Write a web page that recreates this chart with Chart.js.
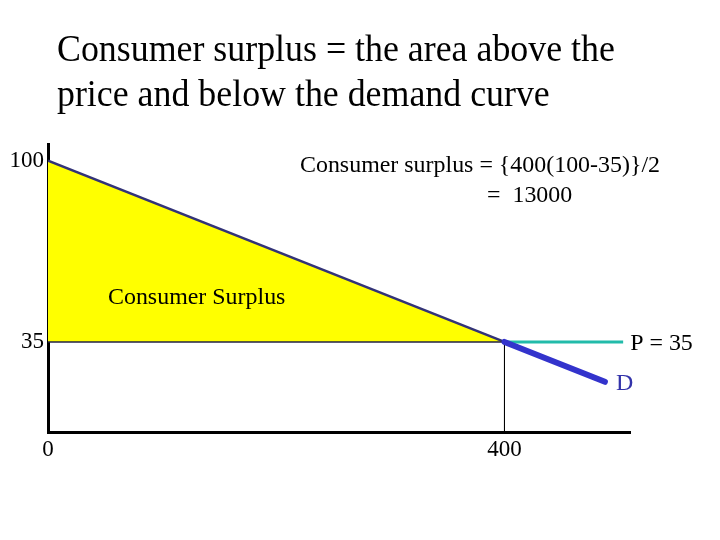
<!DOCTYPE html>
<html>
<head>
<meta charset="utf-8">
<script src="https://cdn.jsdelivr.net/npm/chart.js@4/dist/chart.umd.min.js"></script>
<style>
  html, body { margin: 0; padding: 0; background: #ffffff; }
</style>
</head>
<body>
<canvas id="cs-chart" width="720" height="540"></canvas>
<script>
// chart data
var title_lines = ['Consumer surplus = the area above the', 'price and below the demand curve'];
var formula_lines = ['Consumer surplus = {400(100-35)}/2', '=  13000'];
var area_label = 'Consumer Surplus';
var x_ticks = [0, 400];
var y_ticks = [35, 100];
var x_range = [0, 510];
var y_range = [2.7, 106];
var price = 35;
var quantity = 400;
var demand_q = [0, 400, 488];
var demand_p = [100, 35, 20.7];
var price_end_q = 504;

var serif = '"Liberation Serif", "Times New Roman", serif';

function pts(xs, ys)
{
  return xs.map(function (x, i) { return {x: x, y: ys[i]}; });
}

// text with a small horizontal stretch to match the slide font widths
function put_text(ctx, text, x, y, size, sx)
{
  ctx.save();
  ctx.font = size + 'px ' + serif;
  ctx.translate(x, y);
  ctx.scale(sx, 1);
  ctx.fillText(text, 0, 0);
  ctx.restore();
}

var text_plugin = {
  id: 'text_plugin',
  afterDraw: function (chart) {
    var ctx = chart.ctx;
    var xs = chart.scales.x, ys = chart.scales.y;
    ctx.save();
    ctx.fillStyle = '#000000';
    ctx.textBaseline = 'alphabetic';
    ctx.textAlign = 'left';

    put_text(ctx, title_lines[0], 57, 61, 37, 0.969);
    put_text(ctx, title_lines[1], 57, 106, 37, 0.969);

    put_text(ctx, formula_lines[0], 300, 172, 23, 1.04);
    put_text(ctx, formula_lines[1], 487, 202, 23, 1.04);
    put_text(ctx, area_label, 108, 304, 23, 1.04);

    var py = ys.getPixelForValue(price);
    put_text(ctx, 'P = ' + price, xs.getPixelForValue(price_end_q) + 7, py + 8, 23, 1.04);

    ctx.fillStyle = '#3333aa';
    var last = demand_q.length - 1;
    put_text(ctx, 'D', xs.getPixelForValue(demand_q[last]) + 11, ys.getPixelForValue(demand_p[last]) + 8, 23, 1.04);
    ctx.restore();
  }
};

var cs_chart = new Chart(document.getElementById('cs-chart'), {
  type: 'scatter',
  data: {
    datasets: [{
        // consumer surplus area under the demand curve, above the price
        data: pts(demand_q.slice(0, 2), demand_p.slice(0, 2)),
        showLine: true,
        pointRadius: 0,
        borderColor: '#333377',
        borderWidth: 2.5,
        backgroundColor: '#ffff00',
        fill: {value: price},
        order: 5
      }, {
        data: pts([0, quantity], [price, price]),
        showLine: true,
        pointRadius: 0,
        borderColor: '#222244',
        borderWidth: 1.5,
        fill: false,
        order: 4
      }, {
        data: pts([quantity, price_end_q], [price, price]),
        showLine: true,
        pointRadius: 0,
        borderColor: '#22bbaa',
        borderWidth: 3,
        fill: false,
        order: 3
      }, {
        data: pts([quantity, quantity], [price, y_range[0]]),
        showLine: true,
        pointRadius: 0,
        borderColor: '#000000',
        borderWidth: 1,
        fill: false,
        order: 2
      }, {
        data: pts(demand_q.slice(1), demand_p.slice(1)),
        showLine: true,
        pointRadius: 0,
        borderColor: '#3333cc',
        borderWidth: 6,
        borderCapStyle: 'round',
        fill: false,
        order: 1
      }
    ]
  },
  options: {
    responsive: false,
    animation: false,
    events: [],
    layout: { padding: { top: 144, right: 90, left: 0, bottom: 0 } },
    plugins: {
      legend: { display: false },
      tooltip: { enabled: false },
      title: { display: false }
    },
    scales: {
      x: {
        type: 'linear',
        min: x_range[0],
        max: x_range[1],
        grid: { display: false, drawTicks: false, tickLength: 0 },
        border: { display: true, color: '#000000', width: 3 },
        afterBuildTicks: function (scale) {
          scale.ticks = x_ticks.map(function (v) { return {value: v}; });
        },
        afterFit: function (scale) { scale.height = 108; },
        ticks: {
          color: '#000000',
          font: { family: serif, size: 23 },
          padding: 4,
          maxRotation: 0,
          callback: function (v) { return String(v); }
        }
      },
      y: {
        type: 'linear',
        min: y_range[0],
        max: y_range[1],
        grid: { display: false, drawTicks: false, tickLength: 0 },
        border: { display: true, color: '#000000', width: 3 },
        afterBuildTicks: function (scale) {
          scale.ticks = y_ticks.map(function (v) { return {value: v}; });
        },
        afterFit: function (scale) { scale.width = 48; },
        ticks: {
          color: '#000000',
          font: { family: serif, size: 23 },
          padding: 4,
          callback: function (v) { return String(v); }
        }
      }
    }
  },
  plugins: [text_plugin]
});
</script>
</body>
</html>
